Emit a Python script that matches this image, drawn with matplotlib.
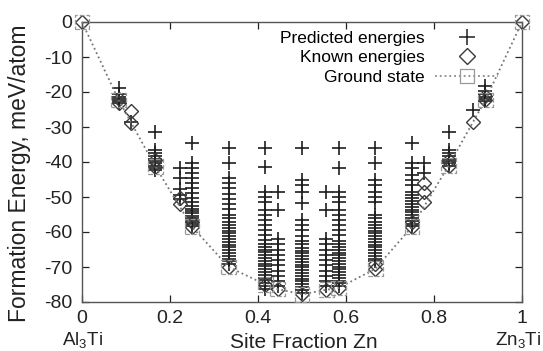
import matplotlib
matplotlib.use("Agg")
import matplotlib.pyplot as plt
from matplotlib.lines import Line2D
from matplotlib.transforms import blended_transform_factory

plt.rcParams['font.family'] = ['Liberation Sans', 'DejaVu Sans']
plt.rcParams['mathtext.default'] = 'regular'
plt.rcParams['axes.unicode_minus'] = False

# compositions (site fraction Zn) where predicted energies were computed
comp = [1/12, 1/9, 1/6, 2/9, 1/4, 1/3, 5/12, 4/9, 1/2, 5/9, 7/12, 2/3, 3/4, 7/9, 5/6, 8/9, 11/12]

# predicted energies per composition, meV/atom
pred_1_12 = [-18.8, -20.5, -21.5, -22.0, -22.5, -23.0]
pred_1_9 = [-28.6]
pred_1_6 = [-31.4, -36.5, -37.5, -38.3, -39.0, -39.7, -40.3, -41.0, -41.6, -42.2]
pred_2_9 = [-41.7, -44.5, -47.6, -49.4, -50.5]
pred_1_4 = [-34.7, -40.4, -41.7, -43.2, -44.6, -46.0, -47.5, -48.9, -50.3, -51.5, -52.5,
            -53.3, -54.0, -54.7, -55.4, -56.0, -56.6, -57.2, -57.8, -58.4]
pred_1_3 = [-36.1, -40.4, -44.6, -46.0, -47.5, -49.0, -50.5, -52.0, -53.5, -55.0, -56.0,
            -57.0, -58.0, -58.8, -59.6, -60.4, -61.2, -62.0, -62.8, -63.6, -64.4, -65.2,
            -66.0, -66.8, -67.6, -68.4, -69.2]
pred_5_12 = [-36.1, -41.5, -48.5, -50.0, -51.5, -53.7, -55.1, -56.6, -58.0, -59.5, -60.9,
             -62.3, -63.3, -64.2, -65.0, -65.8, -66.6, -67.4, -68.2, -69.0, -69.8, -70.6,
             -71.4, -72.2, -73.0, -73.8, -74.6, -75.4, -76.2]
pred_4_9 = [-48.5, -53.7, -62.0, -63.5, -65.0, -66.5, -68.0, -69.5, -71.0, -72.5, -74.0, -75.5]
pred_1_2 = [-36.1, -45.1, -46.6, -48.5, -51.8, -56.6, -58.0, -59.5, -61.0, -62.5, -63.5,
            -64.5, -65.3, -66.1, -66.9, -67.7, -68.5, -69.3, -70.1, -70.9, -71.7, -72.5,
            -73.3, -74.1, -74.9, -75.7, -76.5, -77.3]
pred_5_9 = [-48.5, -53.7, -62.0, -63.5, -65.0, -66.5, -68.0, -69.5, -71.0, -72.5, -74.0, -75.5]
pred_7_12 = [-36.1, -41.8, -48.5, -49.9, -51.4, -53.7, -55.1, -56.6, -58.0, -59.5, -60.9,
             -62.5, -63.5, -64.3, -65.1, -65.9, -66.7, -67.5, -68.3, -69.1, -69.9, -70.7,
             -71.5, -72.3, -73.1, -73.9, -74.7, -75.5]
pred_2_3 = [-36.1, -40.4, -45.1, -46.6, -48.5, -49.9, -51.4, -55.0, -56.0, -57.0, -58.0,
            -58.8, -59.6, -60.4, -61.2, -62.0, -62.8, -63.6, -64.4, -65.2, -66.0, -66.8,
            -67.6, -68.4]
pred_3_4 = [-34.7, -40.4, -41.8, -43.7, -45.1, -46.6, -48.5, -49.5, -50.4, -51.2, -52.0,
            -52.8, -53.6, -54.4, -55.2, -56.0, -56.8, -57.6, -58.4]
pred_7_9 = [-40.4, -43.0]
pred_5_6 = [-31.4, -36.6, -37.5, -38.3, -39.0, -39.7, -40.3, -41.0]
pred_8_9 = [-25.1]
pred_11_12 = [-18.3, -19.7, -20.6, -21.3, -22.0, -22.7]

predicted = [pred_1_12, pred_1_9, pred_1_6, pred_2_9, pred_1_4, pred_1_3, pred_5_12, pred_4_9,
             pred_1_2, pred_5_9, pred_7_12, pred_2_3, pred_3_4, pred_7_9, pred_5_6, pred_8_9,
             pred_11_12]

# known (calculated) energies
known_x = [0, 1/12, 1/12, 1/9, 1/9, 1/6, 1/6, 2/9, 2/9, 1/4, 1/4, 1/3, 5/12, 4/9, 1/2, 5/9,
           7/12, 2/3, 2/3, 3/4, 3/4, 7/9, 7/9, 7/9, 5/6, 5/6, 8/9, 11/12, 11/12, 1]
known_e = [0, -22.0, -23.2, -25.3, -28.9, -39.5, -41.3, -50.3, -52.0, -57.0, -58.5, -70.0,
           -75.0, -76.3, -77.8, -76.5, -76.0, -69.0, -70.5, -57.0, -58.5, -46.0, -48.5,
           -51.5, -39.5, -41.0, -28.6, -21.0, -22.3, 0]

# convex hull (ground states)
gs_x = [0, 1/12, 1/6, 1/4, 1/3, 5/12, 4/9, 1/2, 5/9, 7/12, 2/3, 3/4, 5/6, 11/12, 1]
gs_e = [0, -22.3, -41.3, -58.5, -70.0, -75.0, -76.3, -77.8, -76.5, -76.0, -70.5, -58.5,
        -41.0, -22.3, 0]

fig = plt.figure(figsize=(5.43, 3.51), dpi=100)
ax = fig.add_axes([82/543, 1 - 302/351, 440/543, 280/351])

px, py = [], []
for x, es in zip(comp, predicted):
    px += [x] * len(es)
    py += es

ax.plot(px, py, ls='none', marker='+', ms=9.5, mew=1.2, color='#1e1e1e', zorder=3)
ax.plot(known_x, known_e, ls='none', marker='D', ms=7.5, mfc='none', mec='#3a3a3a',
        mew=1.0, zorder=4, clip_on=False)
ax.plot(gs_x, gs_e, ls=':', lw=1.3, color='#777777', zorder=5, clip_on=False)
ax.scatter(gs_x, gs_e, marker='s', s=110, facecolors='none', edgecolors='#999999',
           linewidths=0.9, linestyles='--', zorder=5, clip_on=False)

ax.set_xlim(0, 1)
ax.set_ylim(-80, 0)
ax.set_xticks([0, 0.2, 0.4, 0.6, 0.8, 1.0])
ax.set_xticklabels(['0', '0.2', '0.4', '0.6', '0.8', '1'])
ax.set_yticks(range(-80, 1, 10))
ax.set_yticklabels([str(v) for v in range(-80, 1, 10)])
ax.tick_params(direction='in', top=True, right=True, length=5, width=0.9,
               labelsize=14, colors='#222222')
ax.tick_params(axis='x', pad=6)
ax.tick_params(axis='y', pad=7)
for sp in ax.spines.values():
    sp.set_color('#555555')
    sp.set_linewidth(1.0)

handles = [
    Line2D([], [], ls='none', marker='+', ms=11, mew=1.1, color='#1e1e1e'),
    Line2D([], [], ls='none', marker='D', ms=8, mfc='none', mec='#3a3a3a', mew=1.0),
    Line2D([], [], ls=':', lw=1.3, color='#888888', marker='s', ms=10, mfc='none',
           mec='#999999', mew=0.9),
]
ax.legend(handles, ['Predicted energies', 'Known energies', 'Ground state'],
          loc='upper right', bbox_to_anchor=(0.965, 1.0), frameon=False,
          markerfirst=False, fontsize=12.5, handlelength=3.6, handletextpad=0.6,
          borderpad=0, labelspacing=0.25)

fig.text(20/543, 1 - 173/351, 'Formation Energy, meV/atom', rotation=90,
         ha='center', va='center', fontsize=16.5, color='#222222')
fig.text(304/543, 1 - 342/351, 'Site Fraction Zn', ha='center', va='center',
         fontsize=15, color='#222222')
tr = blended_transform_factory(ax.transData, fig.transFigure)
ax.text(0, 1 - 340/351, 'Al$_3$Ti', transform=tr, ha='center', va='center',
        fontsize=13.5, color='#222222')
fig.text(541/543, 1 - 340/351, 'Zn$_3$Ti', ha='right', va='center',
         fontsize=13.5, color='#222222')

fig.savefig('out.png', dpi=100)
